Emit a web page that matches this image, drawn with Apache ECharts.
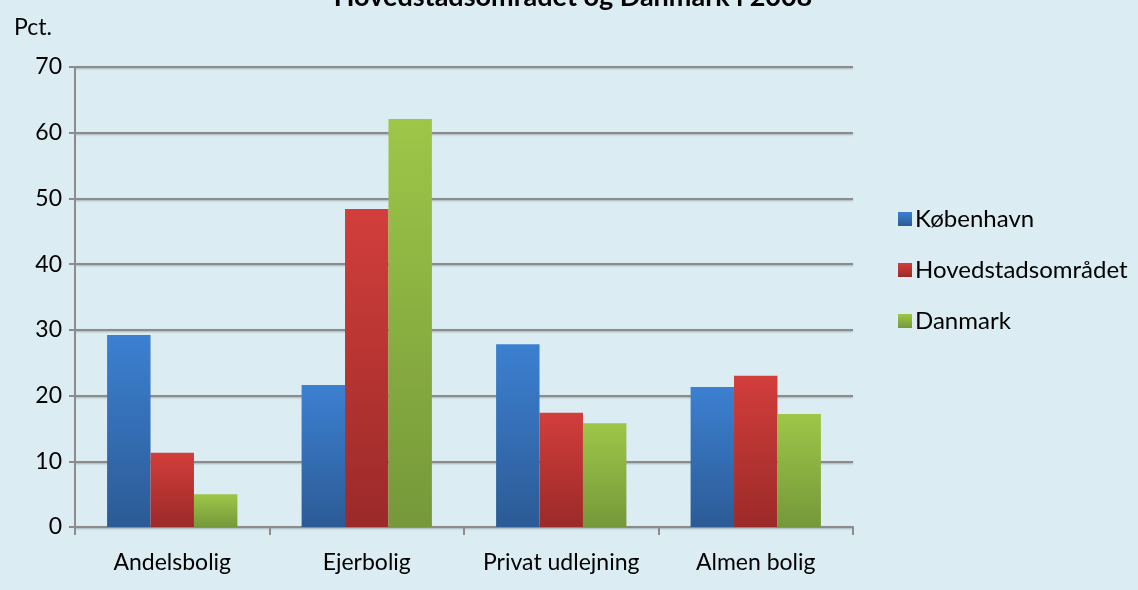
<!DOCTYPE html>
<html>
<head>
<meta charset="utf-8">
<script src="https://cdn.jsdelivr.net/npm/echarts@6/dist/echarts.min.js"></script>
<style>
  html, body { margin: 0; padding: 0; background: #dbedf3; }
  #chart { width: 1138px; height: 590px; }
</style>
</head>
<body>
<div id="chart"></div>
<script>
const categories = ['Andelsbolig', 'Ejerbolig', 'Privat udlejning', 'Almen bolig'];
const seriesNames = ['København', 'Hovedstadsområdet', 'Danmark'];
const kbh = [29.2, 21.6, 27.8, 21.3];
const hovedstad = [11.3, 48.4, 17.4, 23.0];
const danmark = [5.0, 62.1, 15.8, 17.2];
const yTicks = { min: 0, max: 70, interval: 10 };

const font = 'Lato, "Open Sans", sans-serif';

function grad(top, bottom) {
  return new echarts.graphic.LinearGradient(0, 0, 0, 1, [
    { offset: 0, color: top },
    { offset: 1, color: bottom }
  ]);
}

const colors = [
  ['#3c80d1', '#2c5b96'],
  ['#d23e3b', '#9b2a29'],
  ['#9ec648', '#76983a']
];

const myChart = echarts.init(document.getElementById('chart'));
const option = {
  backgroundColor: '#dbedf3',
  title: {
    text: 'Hovedstadsområdet og Danmark i 2008',
    left: 568,
    textAlign: 'center',
    top: -21,
    textStyle: { fontFamily: font, fontWeight: 'bold', fontSize: 27, color: '#000' }
  },
  graphic: [
    {
      type: 'text', left: 14, top: 16,
      style: { text: 'Pct.', fontFamily: font, fontSize: 23, fill: '#000' }
    }
  ],
  legend: {
    orient: 'vertical',
    left: 893,
    top: 202,
    itemWidth: 14,
    itemHeight: 14,
    itemGap: 27,
    icon: 'rect',
    textStyle: { fontFamily: font, fontSize: 24, color: '#000', padding: [0, 0, 0, -2] },
    data: seriesNames
  },
  grid: { left: 75, right: 285, top: 67, bottom: 63 },
  xAxis: {
    type: 'category',
    data: categories,
    axisLine: { lineStyle: { color: '#8c8c8c', width: 2 } },
    axisTick: { show: true, interval: 0, length: 8, lineStyle: { color: '#8c8c8c', width: 2 } },
    axisLabel: { interval: 0, hideOverlap: false, fontFamily: font, fontSize: 23, color: '#000', margin: 24 }
  },
  yAxis: {
    type: 'value',
    min: yTicks.min,
    max: yTicks.max,
    interval: yTicks.interval,
    axisLine: { show: true, lineStyle: { color: '#8c8c8c', width: 2 } },
    axisTick: { show: true, length: 6, lineStyle: { color: '#8c8c8c', width: 2 } },
    axisLabel: { fontFamily: font, fontSize: 23, color: '#000', margin: 13 },
    splitLine: {
      lineStyle: { color: '#8c8c8c', width: 2, shadowColor: 'rgba(0,0,0,0.25)', shadowBlur: 2, shadowOffsetY: 1 }
    }
  },
  series: [kbh, hovedstad, danmark].map((d, i) => ({
    type: 'bar',
    name: seriesNames[i],
    data: d,
    barGap: '0%',
    barCategoryGap: '33%',
    itemStyle: {
      color: grad(colors[i][0], colors[i][1]),
      shadowColor: 'rgba(0,0,0,0.3)',
      shadowBlur: 6,
      shadowOffsetX: 2,
      shadowOffsetY: 2
    }
  }))
};
myChart.setOption(option);
</script>
</body>
</html>
